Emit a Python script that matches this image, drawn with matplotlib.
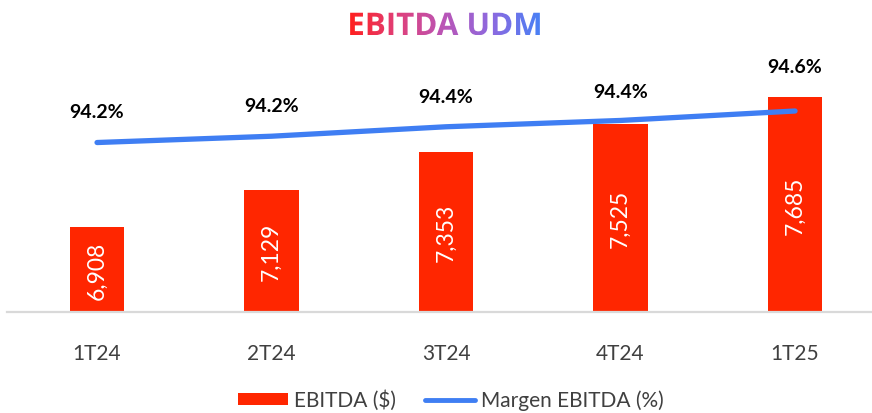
import numpy as np
import matplotlib
matplotlib.use("Agg")
import matplotlib.pyplot as plt
from matplotlib.colors import LinearSegmentedColormap
from matplotlib.textpath import TextPath
from matplotlib.patches import PathPatch, Patch
from matplotlib.lines import Line2D
from matplotlib.font_manager import FontProperties
import matplotlib.transforms as mtransforms

# ---- data ----
categories = ["1T24", "2T24", "3T24", "4T24", "1T25"]
ebitda = [6908, 7129, 7353, 7525, 7685]
margin = [94.16, 94.24, 94.36, 94.44, 94.56]
title_text = "EBITDA UDM"
legend_labels = ["EBITDA ($)", "Margen EBITDA (%)"]

# ---- style ----
W, H, DPI = 872, 414, 100
BAR_COLOR = "#ff2600"
LINE_COLOR = "#3f7ef3"
TEXT_GRAY = "#404040"
FONT = "Lato"
plt.rcParams["font.family"] = [FONT, "DejaVu Sans"]

fig = plt.figure(figsize=(W / DPI, H / DPI), dpi=DPI)
fig.patch.set_facecolor("white")

ax_left, ax_right = 7, 872
ax_bottom, ax_top = 313, 45
ax = fig.add_axes([ax_left / W, 1 - ax_bottom / H,
                   (ax_right - ax_left) / W, (ax_bottom - ax_top) / H])
x = np.arange(len(categories))
ax.bar(x, ebitda, width=0.31, color=BAR_COLOR, zorder=2)
ax.set_ylim(6400, 8000)
ax.set_xlim(-0.516, 4.441)
ax.set_yticks([])
ax.set_xticks(x)
ax.set_xticklabels(categories, fontsize=15, color=TEXT_GRAY)
ax.tick_params(axis="x", length=0, pad=22)
for s in ["top", "right", "left"]:
    ax.spines[s].set_visible(False)
ax.spines["bottom"].set_color("#d9d9d9")
ax.spines["bottom"].set_linewidth(1.6)
ax.patch.set_alpha(0)

y0 = ax.get_ylim()[0]
for xi, v in zip(x, ebitda):
    ax.text(xi, (v + y0) / 2, f"{v:,}", rotation=90, ha="center", va="center",
            color="white", fontsize=16.5, zorder=3)

ax2 = ax.twinx()
ax2.plot(x, margin, color=LINE_COLOR, lw=3.8, solid_capstyle="round", zorder=4)
ax2.set_ylim(92.01, 95.41)
ax2.set_yticks([])
for s in ax2.spines.values():
    s.set_visible(False)
offsets = [22, 22, 22, 21, 32]
for xi, m, off in zip(x, margin, offsets):
    ax2.annotate(f"{m:.1f}%", (xi, m), xytext=(0, off), textcoords="offset points",
                 ha="center", va="center", fontsize=14, fontweight="bold", color="black")

# ---- legend ----
handles = [Patch(facecolor=BAR_COLOR, edgecolor="none"),
           Line2D([0], [0], color=LINE_COLOR, lw=3.5, solid_capstyle="round")]
leg = fig.legend(handles, legend_labels, loc="center", bbox_to_anchor=(451 / W, 1 - 401 / H),
                 ncol=2, frameon=False, fontsize=15, handlelength=2.4, handleheight=0.5,
                 handletextpad=0.3, columnspacing=1.4)
for t in leg.get_texts():
    t.set_color(TEXT_GRAY)

# ---- gradient title ----
fp = FontProperties(family="Open Sans", weight="bold", size=22.5)
tp = TextPath((0, 0), title_text, prop=fp)
bb = tp.get_extents()
sc = DPI / 72
cx, cy = 445, H - 25
tx = cx - (bb.x0 + bb.width / 2) * sc
ty = cy - (bb.y0 + bb.height / 2) * sc
tr = mtransforms.Affine2D().scale(sc).translate(tx, ty)
path = tr.transform_path(tp)
pb = path.get_extents()
ov = fig.add_axes([0, 0, 1, 1])
ov.set_xlim(0, W)
ov.set_ylim(0, H)
ov.axis("off")
cmap = LinearSegmentedColormap.from_list("t", ["#ff2020", "#e0407a", "#b956b8", "#8c6ae0", "#4a80f5"])
grad = np.linspace(0, 1, 256).reshape(1, -1)
im = ov.imshow(grad, cmap=cmap, extent=[pb.x0, pb.x1, pb.y0, pb.y1], aspect="auto",
               interpolation="bilinear")
patch = PathPatch(path, transform=ov.transData, facecolor="none", edgecolor="none")
ov.add_patch(patch)
im.set_clip_path(patch)
ov.set_xlim(0, W)
ov.set_ylim(0, H)

fig.savefig("out.png", dpi=DPI)
